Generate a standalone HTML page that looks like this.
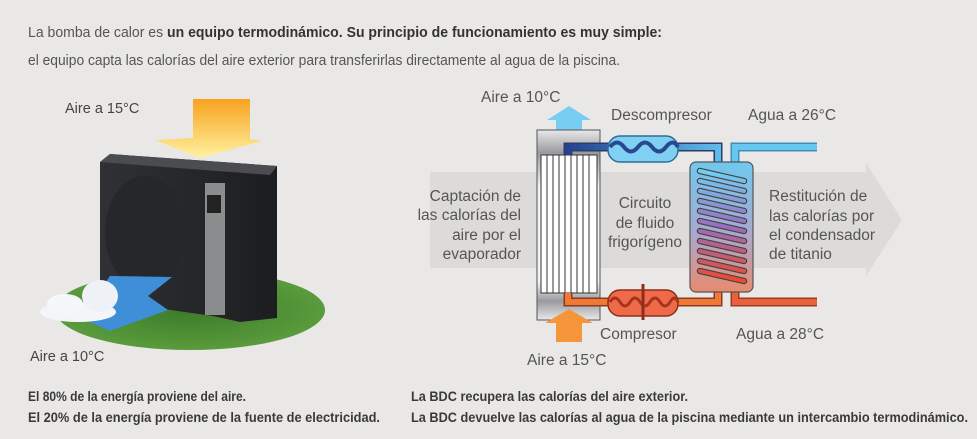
<!DOCTYPE html>
<html><head><meta charset="utf-8"><style>
html,body{margin:0;padding:0;background:#e9e8e7;}
svg{display:block}
text{font-family:"Liberation Sans",sans-serif;}
</style></head><body>
<svg width="977" height="439" viewBox="0 0 977 439" xmlns="http://www.w3.org/2000/svg">
<defs>
<linearGradient id="frame" x1="0" y1="0" x2="0" y2="1">
<stop offset="0" stop-color="#e8e8ea"/><stop offset="0.12" stop-color="#9a9a9e"/><stop offset="0.3" stop-color="#f4f4f6"/><stop offset="0.8" stop-color="#f4f4f6"/><stop offset="0.9" stop-color="#9a9a9e"/><stop offset="1" stop-color="#e8e8ea"/>
</linearGradient>
<linearGradient id="cond" x1="0" y1="0" x2="0" y2="1">
<stop offset="0" stop-color="#6fc8ef"/><stop offset="0.55" stop-color="#a9a9cf"/><stop offset="1" stop-color="#e98a6e"/>
</linearGradient>
<linearGradient id="coil" x1="0" y1="0" x2="0" y2="1">
<stop offset="0" stop-color="#6fd0f5"/><stop offset="0.5" stop-color="#9a6dc0"/><stop offset="1" stop-color="#ee4a2e"/>
</linearGradient>
<linearGradient id="toppipe" x1="0" y1="0" x2="1" y2="0">
<stop offset="0" stop-color="#24428f"/><stop offset="1" stop-color="#5fbbec"/>
</linearGradient>
<linearGradient id="sun" x1="0" y1="0" x2="0" y2="1">
<stop offset="0" stop-color="#f7a21e"/><stop offset="1" stop-color="#fff2a0"/>
</linearGradient>
<radialGradient id="grass" cx="0.5" cy="0.5" r="0.5">
<stop offset="0" stop-color="#3c7a2a"/><stop offset="1" stop-color="#5a9b3c"/>
</radialGradient>
<linearGradient id="unit" x1="0" y1="0" x2="1" y2="0">
<stop offset="0" stop-color="#2f3134"/><stop offset="1" stop-color="#1c1d1f"/>
</linearGradient>
</defs>

<!-- header -->
<text x="28" y="37" font-size="15" fill="#555" textLength="634" lengthAdjust="spacingAndGlyphs">La bomba de calor es <tspan font-weight="bold" fill="#333">un equipo termodinámico. Su principio de funcionamiento es muy simple:</tspan></text>
<text x="28" y="65" font-size="15" fill="#555" textLength="592" lengthAdjust="spacingAndGlyphs">el equipo capta las calorías del aire exterior para transferirlas directamente al agua de la piscina.</text>

<!-- left illustration -->
<ellipse cx="190" cy="310" rx="135" ry="40" fill="url(#grass)"/>
<polygon points="193,99 250,99 250,139 262,141 200,158 155,140 193,138" fill="url(#sun)"/>
<polygon points="100,162 110,154 277,166 277,318 240,322 213,316 100,300" fill="url(#unit)"/>
<polygon points="100,162 110,154 277,166 270,175" fill="#4a4c50"/>
<ellipse cx="145" cy="232" rx="40" ry="56" fill="#26272a"/>
<rect x="205" y="183" width="20" height="132" fill="#8a8c8e"/>
<rect x="207" y="195" width="14" height="18" fill="#222"/>
<polygon points="110,276 172,277 148,296 168,310 110,331 80,318" fill="#3f8fd8"/>
<ellipse cx="78" cy="312" rx="38" ry="10" fill="#f3f5f8"/>
<ellipse cx="100" cy="296" rx="18" ry="16" fill="#eef1f5"/>
<ellipse cx="65" cy="304" rx="18" ry="10" fill="#f5f7fa"/>
<text x="65" y="113" font-size="14.5" fill="#444">Aire a 15°C</text>
<text x="30" y="361" font-size="14.5" fill="#444">Aire a 10°C</text>

<!-- big grey arrow -->
<polygon points="430,172 866,172 866,163 902,220 866,276 866,268 430,268" fill="#dcdbd9"/>

<!-- evaporator -->
<polygon points="547,120 569,106 591,120 582,120 582,131 556,131 556,120" fill="#78cdf3"/>
<rect x="537" y="130" width="63" height="190" fill="url(#frame)" stroke="#555" stroke-width="1"/>
<rect x="541" y="155" width="56" height="138" fill="#fff" stroke="#333" stroke-width="1"/>
<g stroke="#333" stroke-width="1">
<line x1="547" y1="155" x2="547" y2="293"/><line x1="553" y1="155" x2="553" y2="293"/><line x1="559" y1="155" x2="559" y2="293"/><line x1="565" y1="155" x2="565" y2="293"/><line x1="571" y1="155" x2="571" y2="293"/><line x1="577" y1="155" x2="577" y2="293"/><line x1="583" y1="155" x2="583" y2="293"/><line x1="589" y1="155" x2="589" y2="293"/>
</g>
<polygon points="545,323 569,309 593,323 582,323 582,342 556,342 556,323" fill="#f7953a"/>

<!-- refrigerant pipes -->
<path d="M568,155 V147 H718 V175" fill="none" stroke="#2b3c6a" stroke-width="9"/>
<path d="M568,155 V147 H718 V175" fill="none" stroke="url(#toppipe)" stroke-width="6"/>
<path d="M568,293 V302 H718 V290" fill="none" stroke="#8a3a1e" stroke-width="9"/>
<path d="M568,293 V302 H718 V290" fill="none" stroke="#f07a35" stroke-width="6"/>
<!-- water pipes -->
<path d="M735,162 V147 H817" fill="none" stroke="#3f8fb8" stroke-width="9"/>
<path d="M735,162 V147 H817" fill="none" stroke="#66c8f0" stroke-width="6"/>
<path d="M735,290 V302 H817" fill="none" stroke="#9a3b22" stroke-width="9"/>
<path d="M735,290 V302 H817" fill="none" stroke="#e9603e" stroke-width="6"/>

<!-- descompresor -->
<rect x="608" y="136" width="70" height="26" rx="12" fill="#7fd0f2" stroke="#2f6e96" stroke-width="1.5"/>
<path d="M610,147 q7,-9 14,0 t14,0 t14,0 t14,0 t12,0" fill="none" stroke="#28498f" stroke-width="4"/>
<!-- compresor -->
<rect x="608" y="290" width="70" height="26" rx="12" fill="#ee6a48" stroke="#8e2e1a" stroke-width="1.5"/>
<path d="M610,302 q5,-8 10,0 t10,0 t10,0 t10,0 t10,0 t10,0 t8,0" fill="none" stroke="#a5341b" stroke-width="3"/>
<line x1="643" y1="284" x2="643" y2="320" stroke="#8e2e1a" stroke-width="3"/>

<!-- condenser -->
<rect x="690" y="162" width="63" height="130" rx="6" fill="url(#cond)" stroke="#555" stroke-width="1.2"/>
<g fill="none" stroke="#444" stroke-width="6.5" stroke-linecap="round">
<path d="M700,171 L744,181 M700,181 L744,191 M700,191 L744,201 M700,201 L744,211 M700,211 L744,221 M700,221 L744,231 M700,231 L744,241 M700,241 L744,251 M700,251 L744,261 M700,261 L744,271 M700,271 L744,281"/>
</g>
<g fill="none" stroke="url(#coil)" stroke-width="4" stroke-linecap="round">
<path d="M700,171 L744,181 M700,181 L744,191 M700,191 L744,201 M700,201 L744,211 M700,211 L744,221 M700,221 L744,231 M700,231 L744,241 M700,241 L744,251 M700,251 L744,261 M700,261 L744,271 M700,271 L744,281"/>
</g>

<!-- diagram labels -->
<g font-size="15.5" fill="#555">
<text x="481" y="102">Aire a 10°C</text>
<text x="611" y="120">Descompresor</text>
<text x="748" y="120">Agua a 26°C</text>
<text x="600" y="339">Compresor</text>
<text x="736" y="339">Agua a 28°C</text>
<text x="527" y="365">Aire a 15°C</text>
</g>
<g font-size="15.5" fill="#555" text-anchor="end">
<text x="521" y="201">Captación de</text>
<text x="521" y="220">las calorías del</text>
<text x="521" y="240">aire por el</text>
<text x="521" y="259">evaporador</text>
</g>
<g font-size="15.5" fill="#555" text-anchor="middle">
<text x="645" y="208">Circuito</text>
<text x="645" y="228">de fluido</text>
<text x="645" y="247">frigorígeno</text>
</g>
<g font-size="15.5" fill="#555">
<text x="769" y="201">Restitución de</text>
<text x="769" y="221">las calorías por</text>
<text x="769" y="240">el condensador</text>
<text x="769" y="259">de titanio</text>
</g>

<!-- footer -->
<g font-size="13.5" font-weight="bold" fill="#3a3a3a">
<text x="28" y="401" textLength="218" lengthAdjust="spacingAndGlyphs">El 80% de la energía proviene del aire.</text>
<text x="28" y="422" textLength="352" lengthAdjust="spacingAndGlyphs">El 20% de la energía proviene de la fuente de electricidad.</text>
<text x="411" y="401" textLength="277" lengthAdjust="spacingAndGlyphs">La BDC recupera las calorías del aire exterior.</text>
<text x="411" y="422" textLength="557" lengthAdjust="spacingAndGlyphs">La BDC devuelve las calorías al agua de la piscina mediante un intercambio termodinámico.</text>
</g>
</svg>
</body></html>
